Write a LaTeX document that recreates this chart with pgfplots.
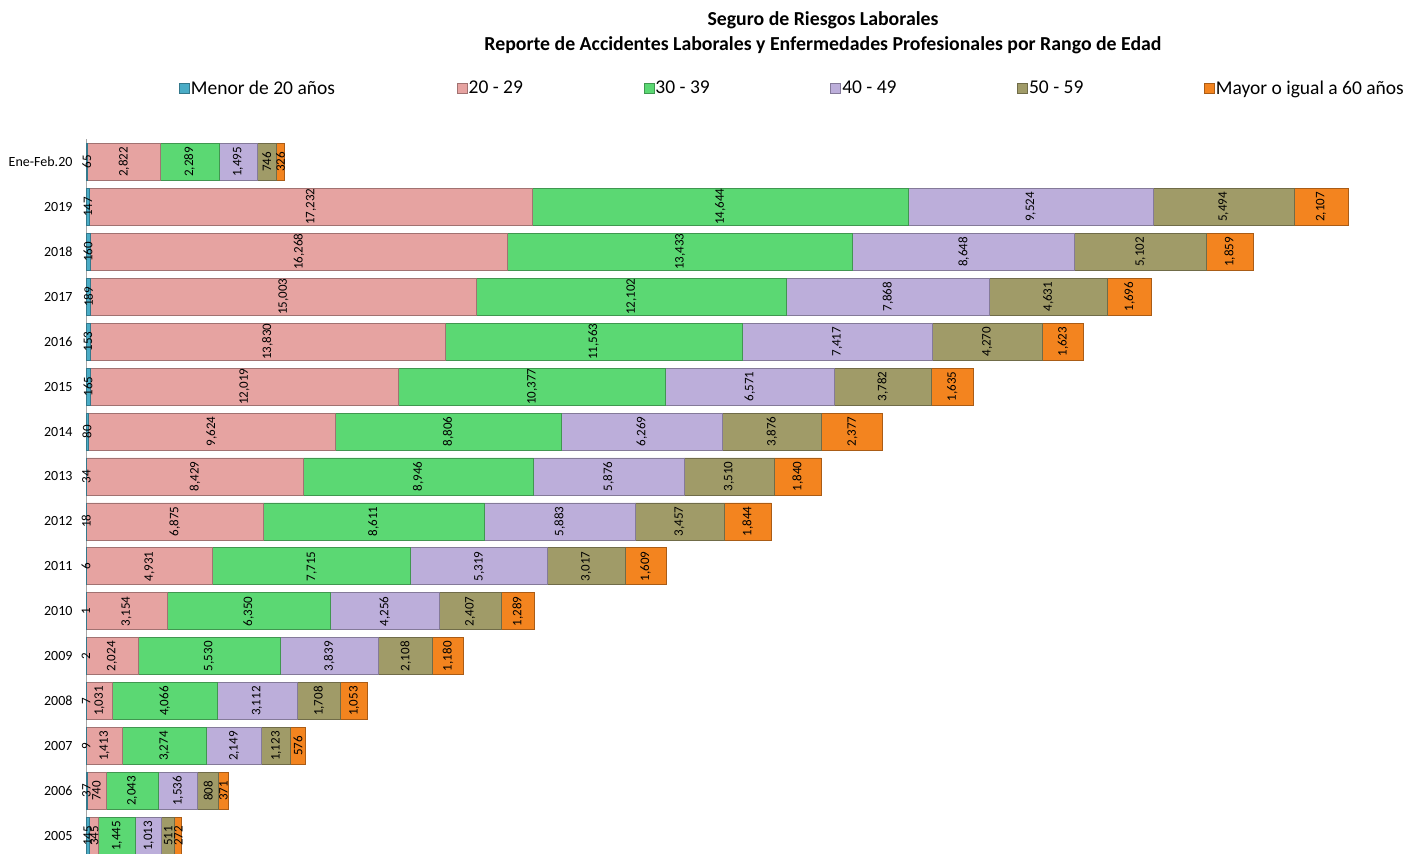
\documentclass[border=0pt]{standalone}
\usepackage{pgfplots}
\pgfplotsset{compat=1.18}
\usepackage{pgfplotstable}
\usepackage{fontspec}
\setmainfont{Carlito}

\definecolor{cmenor}{HTML}{4AACC6}
\definecolor{c20}{HTML}{E6A3A1}
\definecolor{c30}{HTML}{5BD873}
\definecolor{c40}{HTML}{BCAEDA}
\definecolor{c50}{HTML}{A09B68}
\definecolor{c60}{HTML}{F3841F}

% idx: 0 = 2005 ... 14 = 2019, 15 = Ene-Feb.20
\pgfplotstableread{
idx a b c d e f
0 145 345 1445 1013 511 272
1 37 740 2043 1536 808 371
2 9 1413 3274 2149 1123 576
3 7 1031 4066 3112 1708 1053
4 2 2024 5530 3839 2108 1180
5 1 3154 6350 4256 2407 1289
6 6 4931 7715 5319 3017 1609
7 18 6875 8611 5883 3457 1844
8 34 8429 8946 5876 3510 1840
9 80 9624 8806 6269 3876 2377
10 165 12019 10377 6571 3782 1635
11 153 13830 11563 7417 4270 1623
12 189 15003 12102 7868 4631 1696
13 160 16268 13433 8648 5102 1859
14 147 17232 14644 9524 5494 2107
15 65 2822 2289 1495 746 326
}\datos

\pgfplotsset{
  seg/.style={
    fill=#1, draw=#1!70!black, line width=0.8pt,
  },
}

\begin{document}
\begin{tikzpicture}
\useasboundingbox (0,0) rectangle (1407pt,854pt);
\node[font=\fontsize{19.8}{25}\selectfont\bfseries, align=center] at (823pt,821pt)
  {Seguro de Riesgos Laborales\\Reporte de Accidentes Laborales y Enfermedades Profesionales por Rango de Edad};
\begin{axis}[
  at={(86pt,714.5pt)}, anchor=north west,
  scale only axis, width=1284pt, height=714.4pt,
  xbar stacked, bar width=37pt,
  xmin=0, xmax=50000, ymin=-0.4, ymax=15.5,
  axis x line=none, axis y line*=left,
  y axis line style={gray!70, line width=1pt},
  ytick={0,...,15},
  yticklabels={2005,2006,2007,2008,2009,2010,2011,2012,2013,2014,2015,2016,2017,2018,2019,Ene-Feb.20},
  major tick length=0pt,
  yticklabel style={font=\fontsize{14}{16}\selectfont, xshift=-10pt},
  /pgf/number format/assume math mode=true,
  /pgf/number format/1000 sep={,},
  point meta=explicit,
  nodes near coords,
  every node near coord/.append style={
    font=\fontsize{13}{15}\selectfont, text=black, anchor=center,
    rotate=90, inner sep=0pt},
  legend columns=6,
  legend style={at={(0.070,1.072)}, anchor=west, draw=none, fill=none,
    font=\fontsize{19.5}{22}\selectfont, column sep=0pt,
    nodes={inner sep=1pt}},
  legend image code/.code={\fill[#1] (0pt,-5pt) rectangle (10pt,5pt);},
]
\addplot[seg=cmenor] table[x=a, y=idx, meta=a] {\datos};
\addlegendentry{\makebox[265pt][l]{Menor de 20 años}}
\addplot[seg=c20] table[x=b, y=idx, meta=b] {\datos};
\addlegendentry{\makebox[174pt][l]{20 - 29}}
\addplot[seg=c30] table[x=c, y=idx, meta=c] {\datos};
\addlegendentry{\makebox[174pt][l]{30 - 39}}
\addplot[seg=c40] table[x=d, y=idx, meta=d] {\datos};
\addlegendentry{\makebox[174pt][l]{40 - 49}}
\addplot[seg=c50] table[x=e, y=idx, meta=e] {\datos};
\addlegendentry{\makebox[174pt][l]{50 - 59}}
\addplot[seg=c60] table[x=f, y=idx, meta=f] {\datos};
\addlegendentry{Mayor o igual a 60 años}
\end{axis}
\end{tikzpicture}
\end{document}
